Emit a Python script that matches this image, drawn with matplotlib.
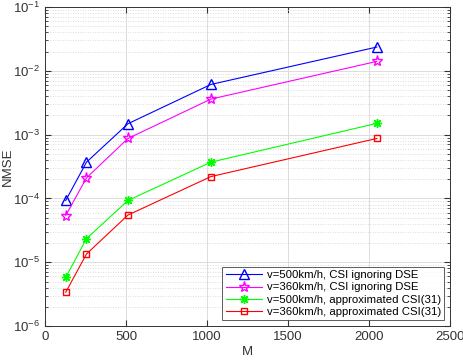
import matplotlib
matplotlib.use("Agg")
import matplotlib.pyplot as plt
from matplotlib.ticker import LogLocator, NullFormatter

plt.rcParams['font.family'] = ['Liberation Sans', 'DejaVu Sans']
plt.rcParams['font.size'] = 9.5

# ---------------- data ----------------
M = [128, 256, 512, 1024, 2048]
v500_ign = [9.3e-5, 3.7e-4, 1.48e-3, 6.1e-3, 2.35e-2]
v360_ign = [5.4e-5, 2.1e-4, 8.7e-4, 3.6e-3, 1.4e-2]
v500_apx = [5.8e-6, 2.35e-5, 9.3e-5, 3.7e-4, 1.5e-3]
v360_apx = [3.4e-6, 1.35e-5, 5.5e-5, 2.2e-4, 8.7e-4]

labels = ['v=500km/h, CSI ignoring DSE',
          'v=360km/h, CSI ignoring DSE',
          'v=500km/h, approximated CSI(31)',
          'v=360km/h, approximated CSI(31)']
# --------------------------------------

fig = plt.figure(figsize=(4.64, 3.62), dpi=100)
ax = fig.add_axes([0.097, 0.099, 0.873, 0.882])

# MATLAB-ish markers: hollow triangle, pentagram, asterisk, square
ax.semilogy(M, v500_ign, '-^', color='#0000ff', lw=0.8, ms=6.5, mfc='none', mew=1.0, label=labels[0])
ax.semilogy(M, v360_ign, '-*', color='#ff00ff', lw=0.8, ms=8, mfc='none', mew=1.0, label=labels[1])
ax.semilogy(M, v500_apx, '-', marker=(8, 2, 0), color='#00ff00', lw=0.8, ms=6.5, mew=1.0, label=labels[2])
ax.semilogy(M, v360_apx, '-s', color='#ff0000', lw=0.8, ms=5, mfc='none', mew=1.0, label=labels[3])

ax.set_xlim(0, 2500)
ax.set_ylim(1e-6, 1e-1)
ax.set_xticks([0, 500, 1000, 1500, 2000, 2500])
ax.yaxis.set_major_locator(LogLocator(base=10, numticks=10))
ax.yaxis.set_minor_locator(LogLocator(base=10, subs=range(2, 10), numticks=10))
ax.yaxis.set_minor_formatter(NullFormatter())

ax.grid(True, which='major', color='#dcdcdc', lw=0.7, ls='-')
ax.grid(True, which='minor', axis='y', color='#d0d0d0', lw=0.6, ls=(0, (1, 2)))
ax.set_axisbelow(True)

ax.tick_params(which='both', direction='in', top=True, right=True, colors='#333333', labelcolor='#333333')
ax.tick_params(which='major', length=4)
ax.tick_params(which='minor', length=2)
for s in ax.spines.values():
    s.set_color('#333333')
    s.set_linewidth(0.7)

ax.set_xlabel('M', color='#333333', labelpad=2)
ax.set_ylabel('NMSE', color='#333333')
ax.yaxis.set_label_coords(-0.077, 0.5)

leg = ax.legend(loc='lower right', fontsize=8.2, frameon=True, fancybox=False,
                edgecolor='#333333', borderpad=0.3, labelspacing=0.2,
                handlelength=3.2, handletextpad=0.4, borderaxespad=0.5)
leg.get_frame().set_linewidth(0.7)

fig.savefig('out.png', dpi=100)
